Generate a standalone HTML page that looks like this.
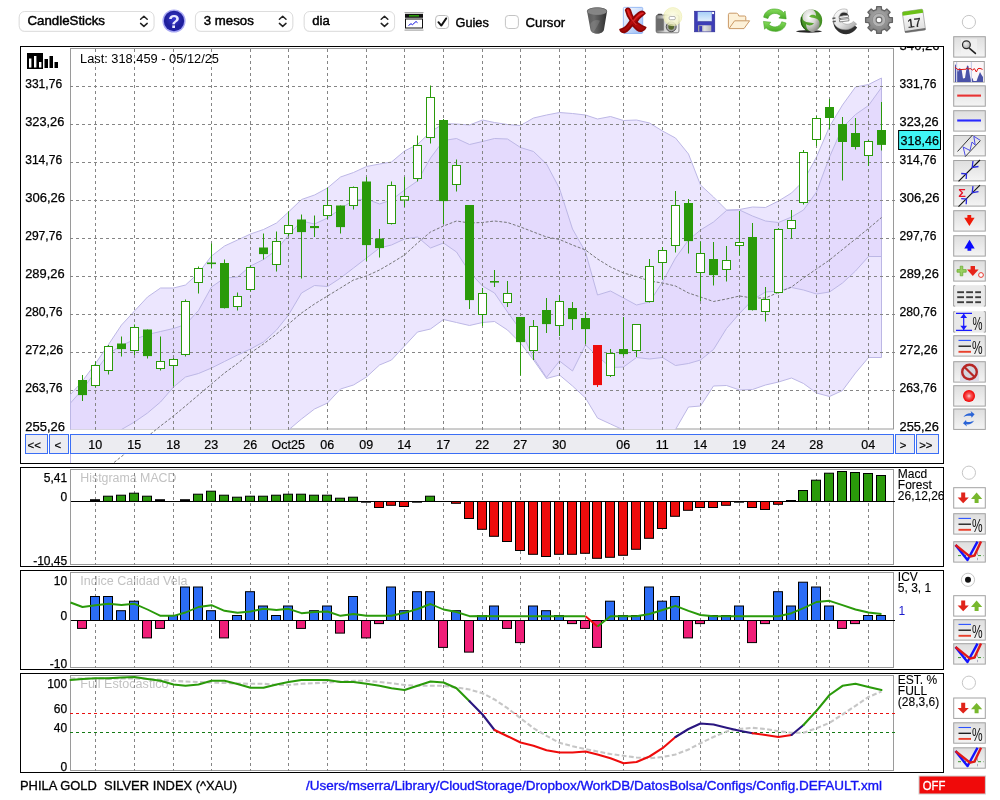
<!DOCTYPE html>
<html lang="ca"><head><meta charset="utf-8"><title>PHILA GOLD SILVER INDEX (^XAU)</title>
<style>html,body{margin:0;padding:0;background:#fff;}body{width:1000px;height:800px;overflow:hidden;position:relative;font-family:"Liberation Sans", sans-serif;}svg{position:absolute;left:0;top:0;display:block;}text{font-family:"Liberation Sans", sans-serif;}</style>
</head><body>
<svg width="1000" height="800" viewBox="0 0 1000 800">
<defs>
<linearGradient id="gBtn" x1="0" y1="0" x2="0" y2="1"><stop offset="0" stop-color="#dedede"/><stop offset="1" stop-color="#f4f4f4"/></linearGradient>
<radialGradient id="gHelp" cx="0.5" cy="0.4" r="0.6"><stop offset="0" stop-color="#3a3ad0"/><stop offset="0.7" stop-color="#1e1e9a"/><stop offset="1" stop-color="#2222a8"/></radialGradient>
<linearGradient id="gTrash" x1="0" y1="0" x2="1" y2="0"><stop offset="0" stop-color="#5a5a5a"/><stop offset="0.35" stop-color="#6a6a6a"/><stop offset="1" stop-color="#2e2e2e"/></linearGradient>
<linearGradient id="gCam" x1="0" y1="0" x2="1" y2="0"><stop offset="0" stop-color="#7a7a7a"/><stop offset="0.4" stop-color="#d8d8d8"/><stop offset="1" stop-color="#f0f0f0"/></linearGradient>
<radialGradient id="gFlash" cx="0.5" cy="0.5" r="0.5"><stop offset="0" stop-color="#fffff0" stop-opacity="1"/><stop offset="0.75" stop-color="#f4f4c8" stop-opacity="0.85"/><stop offset="1" stop-color="#f0f0b0" stop-opacity="0"/></radialGradient>
<linearGradient id="gLabel" x1="0" y1="0" x2="0" y2="1"><stop offset="0" stop-color="#a8d0f8"/><stop offset="1" stop-color="#e4f0fc"/></linearGradient>
<linearGradient id="gGreen" x1="0" y1="0" x2="0" y2="1"><stop offset="0" stop-color="#86dc5c"/><stop offset="1" stop-color="#48aa26"/></linearGradient>
<radialGradient id="gBall" cx="0.4" cy="0.35" r="0.7"><stop offset="0" stop-color="#ffffff"/><stop offset="0.5" stop-color="#d8d8d4"/><stop offset="1" stop-color="#8a8a86"/></radialGradient>
<linearGradient id="gSilver" x1="0" y1="0" x2="1" y2="1"><stop offset="0" stop-color="#ffffff"/><stop offset="0.55" stop-color="#e2e2e2"/><stop offset="1" stop-color="#9a9a9a"/></linearGradient>
<radialGradient id="gGear" cx="0.5" cy="0.4" r="0.6"><stop offset="0" stop-color="#b0b0b0"/><stop offset="1" stop-color="#7c7c7c"/></radialGradient>
<linearGradient id="gCal" x1="0" y1="0" x2="0" y2="1"><stop offset="0" stop-color="#ffffff"/><stop offset="1" stop-color="#dcdcdc"/></linearGradient>
<radialGradient id="gRed" cx="0.5" cy="0.5" r="0.5"><stop offset="0" stop-color="#ffd0d0"/><stop offset="0.35" stop-color="#f86060"/><stop offset="1" stop-color="#f00000"/></radialGradient>
<linearGradient id="gDoc" x1="0" y1="0" x2="1" y2="1"><stop offset="0" stop-color="#ffffff"/><stop offset="1" stop-color="#98bbf6"/></linearGradient>
<linearGradient id="gX" x1="0" y1="0" x2="0" y2="1"><stop offset="0" stop-color="#d81414"/><stop offset="1" stop-color="#a00606"/></linearGradient>
<linearGradient id="gShut" x1="0" y1="0" x2="1" y2="0"><stop offset="0" stop-color="#9a9a9a"/><stop offset="0.5" stop-color="#e0e0e0"/><stop offset="1" stop-color="#b4b4b4"/></linearGradient>
<radialGradient id="gBallG" cx="0.5" cy="0.4" r="0.6"><stop offset="0" stop-color="#6cba3a"/><stop offset="1" stop-color="#3a861e"/></radialGradient>
<radialGradient id="gMag" cx="0.4" cy="0.35" r="0.7"><stop offset="0" stop-color="#f0f0f0"/><stop offset="1" stop-color="#a8a8a8"/></radialGradient>
</defs>
<rect x="0" y="0" width="1000" height="800" fill="#fff"/>
<g id="main">
<rect x="20.5" y="46.5" width="923" height="417" fill="#fff" stroke="#000" stroke-width="1"/>
<clipPath id="cpMain"><rect x="21" y="47" width="922" height="416"/></clipPath>
<clipPath id="cpPlot"><rect x="70" y="48" width="824" height="381.3"/></clipPath>
<rect x="70.5" y="48.5" width="823" height="380.5" fill="none" stroke="#9a9a9a" stroke-width="1"/>
<g clip-path="url(#cpPlot)">
<polygon points="70.5,394.5 82.5,381.0 95.5,363.5 108.5,344.5 121.5,325.0 134.5,311.0 147.5,297.0 160.5,288.0 173.5,288.0 185.5,285.0 198.5,273.0 211.5,256.0 224.5,246.0 237.5,240.0 250.5,234.0 263.5,229.5 276.5,223.0 288.5,212.0 301.5,199.5 314.5,195.0 327.5,188.0 340.5,177.0 353.5,172.5 366.5,166.5 379.5,164.0 391.5,162.0 404.5,151.0 417.5,144.5 430.5,132.0 443.5,123.5 456.5,124.0 469.5,125.0 482.5,120.0 494.5,122.5 507.5,124.5 520.5,125.5 533.5,118.0 546.5,115.0 559.5,112.5 572.5,113.5 585.5,115.0 597.5,119.0 610.5,116.5 623.5,120.5 636.5,120.0 649.5,123.0 662.5,131.0 675.5,138.0 688.5,154.0 700.5,185.0 713.5,197.0 726.5,210.0 739.5,209.5 752.5,207.0 765.5,207.5 778.5,201.0 791.5,193.0 803.5,181.0 816.5,157.0 829.5,126.5 842.5,105.0 855.5,87.0 868.5,84.5 881.5,78.0 881.5,357.5 868.5,357.5 855.5,373.0 842.5,390.5 829.5,396.5 816.5,393.0 803.5,383.5 791.5,378.0 778.5,382.0 765.5,385.0 752.5,389.5 739.5,390.0 726.5,385.5 713.5,386.0 700.5,406.0 688.5,407.0 675.5,429.5 662.5,438.0 649.5,440.0 636.5,436.0 623.5,430.0 610.5,424.0 597.5,418.0 585.5,398.0 572.5,386.0 559.5,375.0 546.5,378.5 533.5,360.0 520.5,343.0 507.5,330.0 494.5,321.5 482.5,322.5 469.5,325.5 456.5,322.5 443.5,319.5 430.5,329.0 417.5,332.0 404.5,346.0 391.5,360.0 379.5,365.0 366.5,377.0 353.5,385.0 340.5,389.0 327.5,403.0 314.5,409.0 301.5,419.0 288.5,430.0 276.5,441.0 200.0,500.0 70.5,600.0" fill="#ece6fe"/>
<polygon points="70.5,403.0 82.5,389.5 95.5,371.5 108.5,353.5 121.5,345.5 134.5,339.5 147.5,334.5 160.5,331.5 173.5,328.5 185.5,324.5 198.5,310.5 211.5,287.0 224.5,278.0 237.5,277.0 250.5,266.0 263.5,259.5 276.5,250.0 288.5,235.0 301.5,221.0 314.5,224.0 327.5,218.0 340.5,209.0 353.5,200.0 366.5,199.0 379.5,204.0 391.5,200.0 404.5,190.0 417.5,181.0 430.5,158.0 443.5,140.5 456.5,138.5 469.5,144.5 482.5,141.5 494.5,138.5 507.5,139.0 520.5,147.5 533.5,151.5 546.5,164.0 559.5,188.5 572.5,229.0 585.5,252.0 597.5,295.0 610.5,291.0 623.5,298.0 636.5,305.0 649.5,302.0 662.5,282.0 675.5,258.0 688.5,240.0 700.5,230.0 713.5,222.0 726.5,210.5 739.5,210.0 752.5,216.0 765.5,221.0 778.5,222.5 791.5,217.0 803.5,210.0 816.5,192.0 829.5,157.0 842.5,127.5 855.5,114.5 868.5,105.5 881.5,87.5 881.5,256.5 868.5,256.5 855.5,271.0 842.5,283.0 829.5,292.0 816.5,294.0 803.5,290.0 791.5,287.5 778.5,291.0 765.5,292.0 752.5,300.0 739.5,313.5 726.5,328.5 713.5,349.5 700.5,360.0 688.5,363.5 675.5,365.5 662.5,357.5 649.5,359.0 636.5,357.5 623.5,367.0 610.5,367.5 597.5,356.0 585.5,345.0 572.5,371.0 559.5,361.0 546.5,377.5 533.5,358.0 520.5,330.0 507.5,312.0 494.5,293.0 482.5,286.0 469.5,272.0 456.5,252.0 443.5,243.0 430.5,248.0 417.5,237.0 404.5,239.0 391.5,245.0 379.5,248.0 366.5,258.0 353.5,268.0 340.5,278.0 327.5,286.5 314.5,285.5 301.5,293.0 288.5,315.0 276.5,330.0 263.5,342.0 250.5,349.0 237.5,355.0 224.5,361.5 211.5,368.0 198.5,373.5 185.5,377.0 173.5,387.0 160.5,402.0 147.5,413.0 134.5,422.0 121.5,429.5 108.5,438.0 95.5,446.0 82.5,452.0 70.5,454.0" fill="#e4dafd"/>
</g>
<line x1="70.5" y1="454" x2="70.5" y2="463" stroke="#bcb7e5" stroke-width="1"/>
<g clip-path="url(#cpPlot)" fill="none" stroke="#bcb7e5" stroke-width="1">
<polyline points="70.5,394.5 82.5,381.0 95.5,363.5 108.5,344.5 121.5,325.0 134.5,311.0 147.5,297.0 160.5,288.0 173.5,288.0 185.5,285.0 198.5,273.0 211.5,256.0 224.5,246.0 237.5,240.0 250.5,234.0 263.5,229.5 276.5,223.0 288.5,212.0 301.5,199.5 314.5,195.0 327.5,188.0 340.5,177.0 353.5,172.5 366.5,166.5 379.5,164.0 391.5,162.0 404.5,151.0 417.5,144.5 430.5,132.0 443.5,123.5 456.5,124.0 469.5,125.0 482.5,120.0 494.5,122.5 507.5,124.5 520.5,125.5 533.5,118.0 546.5,115.0 559.5,112.5 572.5,113.5 585.5,115.0 597.5,119.0 610.5,116.5 623.5,120.5 636.5,120.0 649.5,123.0 662.5,131.0 675.5,138.0 688.5,154.0 700.5,185.0 713.5,197.0 726.5,210.0 739.5,209.5 752.5,207.0 765.5,207.5 778.5,201.0 791.5,193.0 803.5,181.0 816.5,157.0 829.5,126.5 842.5,105.0 855.5,87.0 868.5,84.5 881.5,78.0 881.5,357.5 868.5,357.5 855.5,373.0 842.5,390.5 829.5,396.5 816.5,393.0 803.5,383.5 791.5,378.0 778.5,382.0 765.5,385.0 752.5,389.5 739.5,390.0 726.5,385.5 713.5,386.0 700.5,406.0 688.5,407.0 675.5,429.5 662.5,438.0 649.5,440.0 636.5,436.0 623.5,430.0 610.5,424.0 597.5,418.0 585.5,398.0 572.5,386.0 559.5,375.0 546.5,378.5 533.5,360.0 520.5,343.0 507.5,330.0 494.5,321.5 482.5,322.5 469.5,325.5 456.5,322.5 443.5,319.5 430.5,329.0 417.5,332.0 404.5,346.0 391.5,360.0 379.5,365.0 366.5,377.0 353.5,385.0 340.5,389.0 327.5,403.0 314.5,409.0 301.5,419.0 288.5,430.0 276.5,441.0 200.0,500.0 70.5,600.0 70.5,394.5"/>
<polyline points="70.5,403.0 82.5,389.5 95.5,371.5 108.5,353.5 121.5,345.5 134.5,339.5 147.5,334.5 160.5,331.5 173.5,328.5 185.5,324.5 198.5,310.5 211.5,287.0 224.5,278.0 237.5,277.0 250.5,266.0 263.5,259.5 276.5,250.0 288.5,235.0 301.5,221.0 314.5,224.0 327.5,218.0 340.5,209.0 353.5,200.0 366.5,199.0 379.5,204.0 391.5,200.0 404.5,190.0 417.5,181.0 430.5,158.0 443.5,140.5 456.5,138.5 469.5,144.5 482.5,141.5 494.5,138.5 507.5,139.0 520.5,147.5 533.5,151.5 546.5,164.0 559.5,188.5 572.5,229.0 585.5,252.0 597.5,295.0 610.5,291.0 623.5,298.0 636.5,305.0 649.5,302.0 662.5,282.0 675.5,258.0 688.5,240.0 700.5,230.0 713.5,222.0 726.5,210.5 739.5,210.0 752.5,216.0 765.5,221.0 778.5,222.5 791.5,217.0 803.5,210.0 816.5,192.0 829.5,157.0 842.5,127.5 855.5,114.5 868.5,105.5 881.5,87.5 881.5,256.5 868.5,256.5 855.5,271.0 842.5,283.0 829.5,292.0 816.5,294.0 803.5,290.0 791.5,287.5 778.5,291.0 765.5,292.0 752.5,300.0 739.5,313.5 726.5,328.5 713.5,349.5 700.5,360.0 688.5,363.5 675.5,365.5 662.5,357.5 649.5,359.0 636.5,357.5 623.5,367.0 610.5,367.5 597.5,356.0 585.5,345.0 572.5,371.0 559.5,361.0 546.5,377.5 533.5,358.0 520.5,330.0 507.5,312.0 494.5,293.0 482.5,286.0 469.5,272.0 456.5,252.0 443.5,243.0 430.5,248.0 417.5,237.0 404.5,239.0 391.5,245.0 379.5,248.0 366.5,258.0 353.5,268.0 340.5,278.0 327.5,286.5 314.5,285.5 301.5,293.0 288.5,315.0 276.5,330.0 263.5,342.0 250.5,349.0 237.5,355.0 224.5,361.5 211.5,368.0 198.5,373.5 185.5,377.0 173.5,387.0 160.5,402.0 147.5,413.0 134.5,422.0 121.5,429.5 108.5,438.0 95.5,446.0 82.5,452.0 70.5,454.0 70.5,403.0"/>
</g>
<g clip-path="url(#cpMain)"><polyline points="95.5,476.0 108.5,467.0 121.5,456.5 134.5,446.5 147.5,436.5 160.5,426.0 173.5,416.0 185.5,406.0 198.5,395.0 211.5,384.0 224.5,373.0 237.5,363.5 250.5,353.0 263.5,344.0 276.5,334.0 288.5,324.0 301.5,313.0 314.5,304.0 327.5,296.0 340.5,288.0 353.5,280.0 366.5,276.0 379.5,270.0 391.5,263.0 404.5,255.0 417.5,243.0 430.5,232.0 443.5,226.0 456.5,221.0 469.5,223.0 482.5,222.5 494.5,221.0 507.5,222.5 520.5,227.0 533.5,232.0 546.5,237.0 559.5,239.5 572.5,245.0 585.5,250.0 597.5,259.0 610.5,267.0 623.5,273.0 636.5,276.5 649.5,281.0 662.5,283.0 675.5,286.0 688.5,293.0 700.5,297.0 713.5,301.5 726.5,299.0 739.5,296.0 752.5,298.0 765.5,298.0 778.5,292.4 791.5,287.0 803.5,278.0 816.5,269.0 829.5,260.0 842.5,249.5 855.5,239.0 868.5,228.5 881.5,217.5" fill="none" stroke="#767679" stroke-width="1" stroke-dasharray="2.9 1.7"/></g>
<g stroke="#858585" stroke-width="1" stroke-dasharray="3 3" fill="none">
<line x1="95.5" y1="49" x2="95.5" y2="430"/>
<line x1="134.5" y1="49" x2="134.5" y2="430"/>
<line x1="173.5" y1="49" x2="173.5" y2="430"/>
<line x1="211.5" y1="49" x2="211.5" y2="430"/>
<line x1="250.5" y1="49" x2="250.5" y2="430"/>
<line x1="288.5" y1="49" x2="288.5" y2="430"/>
<line x1="327.5" y1="49" x2="327.5" y2="430"/>
<line x1="366.5" y1="49" x2="366.5" y2="430"/>
<line x1="404.5" y1="49" x2="404.5" y2="430"/>
<line x1="443.5" y1="49" x2="443.5" y2="430"/>
<line x1="482.5" y1="49" x2="482.5" y2="430"/>
<line x1="520.5" y1="49" x2="520.5" y2="430"/>
<line x1="559.5" y1="49" x2="559.5" y2="430"/>
<line x1="585.5" y1="49" x2="585.5" y2="430"/>
<line x1="623.5" y1="49" x2="623.5" y2="430"/>
<line x1="662.5" y1="49" x2="662.5" y2="430"/>
<line x1="700.5" y1="49" x2="700.5" y2="430"/>
<line x1="739.5" y1="49" x2="739.5" y2="430"/>
<line x1="778.5" y1="49" x2="778.5" y2="430"/>
<line x1="816.5" y1="49" x2="816.5" y2="430"/>
<line x1="829.5" y1="49" x2="829.5" y2="430"/>
<line x1="868.5" y1="49" x2="868.5" y2="430"/>
<line x1="70" y1="86.5" x2="895" y2="86.5"/>
<line x1="70" y1="124.5" x2="895" y2="124.5"/>
<line x1="70" y1="162.5" x2="895" y2="162.5"/>
<line x1="70" y1="200.5" x2="895" y2="200.5"/>
<line x1="70" y1="238.5" x2="895" y2="238.5"/>
<line x1="70" y1="276.5" x2="895" y2="276.5"/>
<line x1="70" y1="314.5" x2="895" y2="314.5"/>
<line x1="70" y1="352.5" x2="895" y2="352.5"/>
<line x1="70" y1="390.5" x2="895" y2="390.5"/>
</g>
<g>
<line x1="82.5" y1="375.0" x2="82.5" y2="401.0" stroke="#2a9a0a" stroke-width="1"/>
<rect x="78.0" y="380.0" width="9" height="15.1" fill="#2a9a0a"/>
<line x1="95.5" y1="361.5" x2="95.5" y2="387.5" stroke="#2a9a0a" stroke-width="1"/>
<rect x="91.5" y="365.5" width="8" height="20.0" fill="#fff" stroke="#2a9a0a" stroke-width="1"/>
<line x1="108.5" y1="345.0" x2="108.5" y2="374.5" stroke="#2a9a0a" stroke-width="1"/>
<rect x="104.5" y="346.5" width="8" height="24.0" fill="#fff" stroke="#2a9a0a" stroke-width="1"/>
<line x1="121.5" y1="336.5" x2="121.5" y2="356.5" stroke="#2a9a0a" stroke-width="1"/>
<rect x="117.0" y="343.5" width="9" height="5.6" fill="#2a9a0a"/>
<line x1="134.5" y1="324.5" x2="134.5" y2="355.0" stroke="#2a9a0a" stroke-width="1"/>
<rect x="130.5" y="327.5" width="8" height="23.0" fill="#fff" stroke="#2a9a0a" stroke-width="1"/>
<line x1="147.5" y1="329.5" x2="147.5" y2="358.5" stroke="#2a9a0a" stroke-width="1"/>
<rect x="143.0" y="329.5" width="9" height="26.6" fill="#2a9a0a"/>
<line x1="160.5" y1="336.5" x2="160.5" y2="370.5" stroke="#2a9a0a" stroke-width="1"/>
<rect x="156.5" y="361.5" width="8" height="7.0" fill="#fff" stroke="#2a9a0a" stroke-width="1"/>
<line x1="173.5" y1="358.0" x2="173.5" y2="386.0" stroke="#2a9a0a" stroke-width="1"/>
<rect x="169.5" y="359.5" width="8" height="6.0" fill="#fff" stroke="#2a9a0a" stroke-width="1"/>
<line x1="185.5" y1="299.5" x2="185.5" y2="356.5" stroke="#2a9a0a" stroke-width="1"/>
<rect x="181.5" y="301.5" width="8" height="53.0" fill="#fff" stroke="#2a9a0a" stroke-width="1"/>
<line x1="198.5" y1="266.5" x2="198.5" y2="293.5" stroke="#2a9a0a" stroke-width="1"/>
<rect x="194.5" y="268.5" width="8" height="14.0" fill="#fff" stroke="#2a9a0a" stroke-width="1"/>
<line x1="211.5" y1="243.5" x2="211.5" y2="268.5" stroke="#2a9a0a" stroke-width="1"/>
<rect x="207.0" y="262.5" width="9" height="1.6" fill="#2a9a0a"/>
<line x1="224.5" y1="259.5" x2="224.5" y2="308.5" stroke="#2a9a0a" stroke-width="1"/>
<rect x="220.0" y="263.0" width="9" height="45.1" fill="#2a9a0a"/>
<line x1="237.5" y1="292.5" x2="237.5" y2="310.5" stroke="#2a9a0a" stroke-width="1"/>
<rect x="233.5" y="296.5" width="8" height="10.0" fill="#fff" stroke="#2a9a0a" stroke-width="1"/>
<line x1="250.5" y1="265.5" x2="250.5" y2="291.5" stroke="#2a9a0a" stroke-width="1"/>
<rect x="246.5" y="267.5" width="8" height="22.0" fill="#fff" stroke="#2a9a0a" stroke-width="1"/>
<line x1="263.5" y1="233.5" x2="263.5" y2="259.5" stroke="#2a9a0a" stroke-width="1"/>
<rect x="259.0" y="247.5" width="9" height="6.6" fill="#2a9a0a"/>
<line x1="276.5" y1="231.5" x2="276.5" y2="271.5" stroke="#2a9a0a" stroke-width="1"/>
<rect x="272.5" y="241.5" width="8" height="23.0" fill="#fff" stroke="#2a9a0a" stroke-width="1"/>
<line x1="288.5" y1="211.5" x2="288.5" y2="236.0" stroke="#2a9a0a" stroke-width="1"/>
<rect x="284.5" y="225.5" width="8" height="8.0" fill="#fff" stroke="#2a9a0a" stroke-width="1"/>
<line x1="301.5" y1="214.5" x2="301.5" y2="278.5" stroke="#2a9a0a" stroke-width="1"/>
<rect x="297.0" y="219.5" width="9" height="12.6" fill="#2a9a0a"/>
<line x1="314.5" y1="215.5" x2="314.5" y2="237.0" stroke="#2a9a0a" stroke-width="1"/>
<rect x="310.0" y="226.0" width="9" height="2.1" fill="#2a9a0a"/>
<line x1="327.5" y1="188.0" x2="327.5" y2="219.0" stroke="#2a9a0a" stroke-width="1"/>
<rect x="323.5" y="205.5" width="8" height="10.0" fill="#fff" stroke="#2a9a0a" stroke-width="1"/>
<line x1="340.5" y1="205.5" x2="340.5" y2="233.5" stroke="#2a9a0a" stroke-width="1"/>
<rect x="336.0" y="205.5" width="9" height="21.6" fill="#2a9a0a"/>
<line x1="353.5" y1="186.5" x2="353.5" y2="209.5" stroke="#2a9a0a" stroke-width="1"/>
<rect x="349.5" y="187.5" width="8" height="18.0" fill="#fff" stroke="#2a9a0a" stroke-width="1"/>
<line x1="366.5" y1="177.0" x2="366.5" y2="261.0" stroke="#2a9a0a" stroke-width="1"/>
<rect x="362.0" y="181.5" width="9" height="63.6" fill="#2a9a0a"/>
<line x1="379.5" y1="229.0" x2="379.5" y2="257.5" stroke="#2a9a0a" stroke-width="1"/>
<rect x="375.0" y="238.5" width="9" height="9.6" fill="#2a9a0a"/>
<line x1="391.5" y1="181.5" x2="391.5" y2="224.5" stroke="#2a9a0a" stroke-width="1"/>
<rect x="387.5" y="185.5" width="8" height="38.0" fill="#fff" stroke="#2a9a0a" stroke-width="1"/>
<line x1="404.5" y1="177.0" x2="404.5" y2="207.0" stroke="#2a9a0a" stroke-width="1"/>
<rect x="400.5" y="196.5" width="8" height="3.5" fill="#fff" stroke="#2a9a0a" stroke-width="1"/>
<line x1="417.5" y1="135.5" x2="417.5" y2="181.5" stroke="#2a9a0a" stroke-width="1"/>
<rect x="413.5" y="145.5" width="8" height="33.0" fill="#fff" stroke="#2a9a0a" stroke-width="1"/>
<line x1="430.5" y1="85.5" x2="430.5" y2="143.5" stroke="#2a9a0a" stroke-width="1"/>
<rect x="426.5" y="97.5" width="8" height="40.0" fill="#fff" stroke="#2a9a0a" stroke-width="1"/>
<line x1="443.5" y1="119.0" x2="443.5" y2="224.0" stroke="#2a9a0a" stroke-width="1"/>
<rect x="439.0" y="120.0" width="9" height="81.1" fill="#2a9a0a"/>
<line x1="456.5" y1="159.5" x2="456.5" y2="191.5" stroke="#2a9a0a" stroke-width="1"/>
<rect x="452.5" y="165.5" width="8" height="19.0" fill="#fff" stroke="#2a9a0a" stroke-width="1"/>
<line x1="469.5" y1="205.0" x2="469.5" y2="309.0" stroke="#2a9a0a" stroke-width="1"/>
<rect x="465.0" y="205.0" width="9" height="95.1" fill="#2a9a0a"/>
<line x1="482.5" y1="288.0" x2="482.5" y2="326.0" stroke="#2a9a0a" stroke-width="1"/>
<rect x="478.5" y="293.5" width="8" height="21.0" fill="#fff" stroke="#2a9a0a" stroke-width="1"/>
<line x1="494.5" y1="270.0" x2="494.5" y2="287.0" stroke="#2a9a0a" stroke-width="1"/>
<rect x="490.0" y="281.0" width="9" height="1.6" fill="#2a9a0a"/>
<line x1="507.5" y1="281.0" x2="507.5" y2="307.0" stroke="#2a9a0a" stroke-width="1"/>
<rect x="503.5" y="293.5" width="8" height="9.0" fill="#fff" stroke="#2a9a0a" stroke-width="1"/>
<line x1="520.5" y1="317.0" x2="520.5" y2="375.5" stroke="#2a9a0a" stroke-width="1"/>
<rect x="516.0" y="317.0" width="9" height="25.1" fill="#2a9a0a"/>
<line x1="533.5" y1="320.0" x2="533.5" y2="360.0" stroke="#2a9a0a" stroke-width="1"/>
<rect x="529.5" y="326.5" width="8" height="24.0" fill="#fff" stroke="#2a9a0a" stroke-width="1"/>
<line x1="546.5" y1="298.0" x2="546.5" y2="333.0" stroke="#2a9a0a" stroke-width="1"/>
<rect x="542.0" y="310.0" width="9" height="14.1" fill="#2a9a0a"/>
<line x1="559.5" y1="295.0" x2="559.5" y2="336.0" stroke="#2a9a0a" stroke-width="1"/>
<rect x="555.5" y="301.5" width="8" height="24.0" fill="#fff" stroke="#2a9a0a" stroke-width="1"/>
<line x1="572.5" y1="302.0" x2="572.5" y2="330.0" stroke="#2a9a0a" stroke-width="1"/>
<rect x="568.0" y="308.0" width="9" height="11.1" fill="#2a9a0a"/>
<line x1="585.5" y1="312.0" x2="585.5" y2="344.0" stroke="#2a9a0a" stroke-width="1"/>
<rect x="581.0" y="318.0" width="9" height="11.1" fill="#2a9a0a"/>
<line x1="597.5" y1="345.0" x2="597.5" y2="387.0" stroke="#ee0c0c" stroke-width="1"/>
<rect x="593.0" y="345.0" width="9" height="40.1" fill="#ee0c0c"/>
<line x1="610.5" y1="349.0" x2="610.5" y2="377.0" stroke="#2a9a0a" stroke-width="1"/>
<rect x="606.5" y="353.5" width="8" height="22.0" fill="#fff" stroke="#2a9a0a" stroke-width="1"/>
<line x1="623.5" y1="317.0" x2="623.5" y2="356.0" stroke="#2a9a0a" stroke-width="1"/>
<rect x="619.0" y="349.0" width="9" height="5.1" fill="#2a9a0a"/>
<line x1="636.5" y1="324.0" x2="636.5" y2="357.0" stroke="#2a9a0a" stroke-width="1"/>
<rect x="632.5" y="324.5" width="8" height="26.0" fill="#fff" stroke="#2a9a0a" stroke-width="1"/>
<line x1="649.5" y1="259.0" x2="649.5" y2="302.5" stroke="#2a9a0a" stroke-width="1"/>
<rect x="645.5" y="266.5" width="8" height="35.0" fill="#fff" stroke="#2a9a0a" stroke-width="1"/>
<line x1="662.5" y1="247.0" x2="662.5" y2="279.5" stroke="#2a9a0a" stroke-width="1"/>
<rect x="658.5" y="250.5" width="8" height="12.0" fill="#fff" stroke="#2a9a0a" stroke-width="1"/>
<line x1="675.5" y1="191.0" x2="675.5" y2="252.5" stroke="#2a9a0a" stroke-width="1"/>
<rect x="671.5" y="205.5" width="8" height="40.0" fill="#fff" stroke="#2a9a0a" stroke-width="1"/>
<line x1="688.5" y1="199.0" x2="688.5" y2="253.5" stroke="#2a9a0a" stroke-width="1"/>
<rect x="684.0" y="203.0" width="9" height="38.1" fill="#2a9a0a"/>
<line x1="700.5" y1="241.5" x2="700.5" y2="301.0" stroke="#2a9a0a" stroke-width="1"/>
<rect x="696.5" y="253.5" width="8" height="19.0" fill="#fff" stroke="#2a9a0a" stroke-width="1"/>
<line x1="713.5" y1="242.0" x2="713.5" y2="285.5" stroke="#2a9a0a" stroke-width="1"/>
<rect x="709.0" y="259.0" width="9" height="16.1" fill="#2a9a0a"/>
<line x1="726.5" y1="246.0" x2="726.5" y2="281.5" stroke="#2a9a0a" stroke-width="1"/>
<rect x="722.5" y="260.5" width="8" height="9.0" fill="#fff" stroke="#2a9a0a" stroke-width="1"/>
<line x1="739.5" y1="211.0" x2="739.5" y2="255.5" stroke="#2a9a0a" stroke-width="1"/>
<rect x="735.5" y="242.5" width="8" height="3.0" fill="#fff" stroke="#2a9a0a" stroke-width="1"/>
<line x1="752.5" y1="223.0" x2="752.5" y2="310.5" stroke="#2a9a0a" stroke-width="1"/>
<rect x="748.0" y="237.0" width="9" height="73.1" fill="#2a9a0a"/>
<line x1="765.5" y1="287.0" x2="765.5" y2="321.5" stroke="#2a9a0a" stroke-width="1"/>
<rect x="761.5" y="299.5" width="8" height="12.0" fill="#fff" stroke="#2a9a0a" stroke-width="1"/>
<line x1="778.5" y1="228.0" x2="778.5" y2="293.5" stroke="#2a9a0a" stroke-width="1"/>
<rect x="774.5" y="229.5" width="8" height="63.0" fill="#fff" stroke="#2a9a0a" stroke-width="1"/>
<line x1="791.5" y1="210.0" x2="791.5" y2="238.5" stroke="#2a9a0a" stroke-width="1"/>
<rect x="787.5" y="220.5" width="8" height="8.0" fill="#fff" stroke="#2a9a0a" stroke-width="1"/>
<line x1="803.5" y1="150.0" x2="803.5" y2="204.5" stroke="#2a9a0a" stroke-width="1"/>
<rect x="799.5" y="152.5" width="8" height="50.0" fill="#fff" stroke="#2a9a0a" stroke-width="1"/>
<line x1="816.5" y1="116.0" x2="816.5" y2="146.0" stroke="#2a9a0a" stroke-width="1"/>
<rect x="812.5" y="118.5" width="8" height="21.0" fill="#fff" stroke="#2a9a0a" stroke-width="1"/>
<line x1="829.5" y1="99.0" x2="829.5" y2="129.0" stroke="#2a9a0a" stroke-width="1"/>
<rect x="825.0" y="107.0" width="9" height="11.0" fill="#2a9a0a"/>
<line x1="842.5" y1="117.0" x2="842.5" y2="180.5" stroke="#2a9a0a" stroke-width="1"/>
<rect x="838.0" y="124.0" width="9" height="18.0" fill="#2a9a0a"/>
<line x1="855.5" y1="118.0" x2="855.5" y2="149.5" stroke="#2a9a0a" stroke-width="1"/>
<rect x="851.0" y="133.0" width="9" height="14.0" fill="#2a9a0a"/>
<line x1="868.5" y1="140.0" x2="868.5" y2="166.0" stroke="#2a9a0a" stroke-width="1"/>
<rect x="864.5" y="141.5" width="8" height="14.0" fill="#fff" stroke="#2a9a0a" stroke-width="1"/>
<line x1="881.5" y1="102.0" x2="881.5" y2="150.5" stroke="#2a9a0a" stroke-width="1"/>
<rect x="877.0" y="130.0" width="9" height="14.9" fill="#2a9a0a"/>
</g>
<g font-size="12" fill="#000" stroke="#000" stroke-width="0.25">
<text x="25.2" y="87.7" textLength="36.9" lengthAdjust="spacingAndGlyphs">331,76</text>
<text x="899.6" y="87.7" textLength="36.8" lengthAdjust="spacingAndGlyphs">331,76</text>
<text x="25.2" y="125.7" textLength="39.1" lengthAdjust="spacingAndGlyphs">323,26</text>
<text x="899.6" y="125.7" textLength="39.0" lengthAdjust="spacingAndGlyphs">323,26</text>
<text x="25.2" y="163.7" textLength="36.9" lengthAdjust="spacingAndGlyphs">314,76</text>
<text x="899.6" y="163.7" textLength="36.8" lengthAdjust="spacingAndGlyphs">314,76</text>
<text x="25.2" y="201.7" textLength="39.9" lengthAdjust="spacingAndGlyphs">306,26</text>
<text x="899.6" y="201.7" textLength="39.8" lengthAdjust="spacingAndGlyphs">306,26</text>
<text x="25.2" y="239.7" textLength="36.9" lengthAdjust="spacingAndGlyphs">297,76</text>
<text x="899.6" y="239.7" textLength="36.8" lengthAdjust="spacingAndGlyphs">297,76</text>
<text x="25.2" y="277.7" textLength="39.4" lengthAdjust="spacingAndGlyphs">289,26</text>
<text x="899.6" y="277.7" textLength="39.2" lengthAdjust="spacingAndGlyphs">289,26</text>
<text x="25.2" y="315.7" textLength="37.4" lengthAdjust="spacingAndGlyphs">280,76</text>
<text x="899.6" y="315.7" textLength="37.2" lengthAdjust="spacingAndGlyphs">280,76</text>
<text x="25.2" y="353.7" textLength="38.1" lengthAdjust="spacingAndGlyphs">272,26</text>
<text x="899.6" y="353.7" textLength="38.0" lengthAdjust="spacingAndGlyphs">272,26</text>
<text x="25.2" y="391.7" textLength="37.4" lengthAdjust="spacingAndGlyphs">263,76</text>
<text x="899.6" y="391.7" textLength="37.2" lengthAdjust="spacingAndGlyphs">263,76</text>
<text x="25.2" y="430.6" textLength="39.8" lengthAdjust="spacingAndGlyphs">255,26</text>
<text x="899.6" y="430.6" textLength="39.2" lengthAdjust="spacingAndGlyphs">255,26</text>
<g clip-path="url(#cpMain)"><text x="899.6" y="49.7" textLength="40" lengthAdjust="spacingAndGlyphs">340,26</text></g>
</g>
<rect x="898.6" y="130.5" width="41.9" height="19" fill="#3ff5f5" stroke="#000" stroke-width="1"/>
<text x="900.5" y="144.6" font-size="12" textLength="38.4" lengthAdjust="spacingAndGlyphs" stroke="#000" stroke-width="0.25">318,46</text>
<text x="80" y="62.5" font-size="12" textLength="139" lengthAdjust="spacingAndGlyphs">Last: 318.459 - 05/12/25</text>
<g fill="#000"><rect x="27" y="53" width="16" height="16"/><rect x="29" y="58.5" width="2.4" height="9" fill="#fff"/><rect x="34" y="56" width="2.4" height="11.5" fill="#fff"/><rect x="39" y="62" width="2.4" height="5.5" fill="#fff"/><rect x="44.5" y="59" width="3.5" height="9"/><rect x="49.5" y="56" width="3.5" height="12"/><rect x="54.5" y="62" width="3.5" height="6"/></g>
<g>
<rect x="25.5" y="434.5" width="22" height="19" fill="#ececf1" stroke="#3a6ef5"/>
<rect x="49.5" y="434.5" width="19" height="19" fill="#ececf1" stroke="#3a6ef5"/>
<rect x="70.5" y="434.5" width="823" height="19" fill="#ececf1" stroke="#3a6ef5"/>
<rect x="895.5" y="434.5" width="19" height="19" fill="#ececf1" stroke="#3a6ef5"/>
<rect x="916.5" y="434.5" width="22" height="19" fill="#ececf1" stroke="#3a6ef5"/>
<g font-size="12.5" fill="#000" text-anchor="middle" stroke="#000" stroke-width="0.2">
<g font-size="11.4"><text x="34.2" y="448.6">&lt;&lt;</text><text x="57.8" y="448.6">&lt;</text><text x="903" y="448.6">&gt;</text><text x="925.8" y="448.6">&gt;&gt;</text></g>
<text x="95.3" y="449">10</text>
<text x="134.3" y="449">15</text>
<text x="173.3" y="449">18</text>
<text x="211.3" y="449">23</text>
<text x="250.3" y="449">26</text>
<text x="288.3" y="449">Oct25</text>
<text x="327.3" y="449">06</text>
<text x="366.3" y="449">09</text>
<text x="404.3" y="449">14</text>
<text x="443.3" y="449">17</text>
<text x="482.3" y="449">22</text>
<text x="520.3" y="449">27</text>
<text x="559.3" y="449">30</text>
<text x="623.3" y="449">06</text>
<text x="662.3" y="449">11</text>
<text x="700.3" y="449">14</text>
<text x="739.3" y="449">19</text>
<text x="778.3" y="449">24</text>
<text x="816.3" y="449">28</text>
<text x="868.3" y="449">04</text>
</g></g>
</g>
<rect x="20.5" y="467.5" width="923" height="99" fill="#fff" stroke="#000" stroke-width="1"/>
<rect x="70.5" y="469.5" width="823" height="95" fill="#fff" stroke="#9a9a9a" stroke-width="1"/>
<text x="80.3" y="481.6" font-size="12" fill="#c2c2c2" textLength="96.2" lengthAdjust="spacingAndGlyphs">Histgrama MACD</text>
<g stroke="#858585" stroke-width="1" stroke-dasharray="3 3" fill="none">
<line x1="95.5" y1="473.0" x2="95.5" y2="565.0"/>
<line x1="134.5" y1="473.0" x2="134.5" y2="565.0"/>
<line x1="173.5" y1="473.0" x2="173.5" y2="565.0"/>
<line x1="211.5" y1="473.0" x2="211.5" y2="565.0"/>
<line x1="250.5" y1="473.0" x2="250.5" y2="565.0"/>
<line x1="288.5" y1="473.0" x2="288.5" y2="565.0"/>
<line x1="327.5" y1="473.0" x2="327.5" y2="565.0"/>
<line x1="366.5" y1="473.0" x2="366.5" y2="565.0"/>
<line x1="404.5" y1="473.0" x2="404.5" y2="565.0"/>
<line x1="443.5" y1="473.0" x2="443.5" y2="565.0"/>
<line x1="482.5" y1="473.0" x2="482.5" y2="565.0"/>
<line x1="520.5" y1="473.0" x2="520.5" y2="565.0"/>
<line x1="559.5" y1="473.0" x2="559.5" y2="565.0"/>
<line x1="585.5" y1="473.0" x2="585.5" y2="565.0"/>
<line x1="623.5" y1="473.0" x2="623.5" y2="565.0"/>
<line x1="662.5" y1="473.0" x2="662.5" y2="565.0"/>
<line x1="700.5" y1="473.0" x2="700.5" y2="565.0"/>
<line x1="739.5" y1="473.0" x2="739.5" y2="565.0"/>
<line x1="778.5" y1="473.0" x2="778.5" y2="565.0"/>
<line x1="816.5" y1="473.0" x2="816.5" y2="565.0"/>
<line x1="829.5" y1="473.0" x2="829.5" y2="565.0"/>
<line x1="868.5" y1="473.0" x2="868.5" y2="565.0"/>
</g>
<g font-size="12" fill="#000" text-anchor="end" stroke="#000" stroke-width="0.25">
<text x="67.2" y="481.7">5,41</text>
<text x="67.2" y="501.0">0</text>
<text x="67.2" y="565.0">-10,45</text>
</g>
<g font-size="12" fill="#000" stroke="#000" stroke-width="0.1">
<text x="897.8" y="478.0">Macd</text>
<text x="897.8" y="489.0">Forest</text>
<text x="897.8" y="500.0">26,12,26</text>
</g>
<g stroke="#000" stroke-width="1">
<rect x="90.0" y="499.2" width="10" height="2.8" fill="#000" stroke="none"/>
<rect x="103.5" y="496.2" width="9" height="5.2" fill="#2a9a0a"/>
<rect x="116.5" y="495.2" width="9" height="6.2" fill="#2a9a0a"/>
<rect x="129.5" y="493.2" width="9" height="8.2" fill="#2a9a0a"/>
<rect x="142.5" y="496.2" width="9" height="5.2" fill="#2a9a0a"/>
<rect x="155.0" y="499.2" width="10" height="2.8" fill="#000" stroke="none"/>
<rect x="180.0" y="499.2" width="10" height="2.8" fill="#000" stroke="none"/>
<rect x="193.5" y="494.2" width="9" height="7.2" fill="#2a9a0a"/>
<rect x="206.5" y="491.2" width="9" height="10.2" fill="#2a9a0a"/>
<rect x="219.5" y="495.2" width="9" height="6.2" fill="#2a9a0a"/>
<rect x="232.5" y="497.2" width="9" height="4.2" fill="#2a9a0a"/>
<rect x="245.5" y="496.2" width="9" height="5.2" fill="#2a9a0a"/>
<rect x="258.5" y="496.2" width="9" height="5.2" fill="#2a9a0a"/>
<rect x="271.5" y="495.2" width="9" height="6.2" fill="#2a9a0a"/>
<rect x="283.5" y="494.2" width="9" height="7.2" fill="#2a9a0a"/>
<rect x="296.5" y="494.2" width="9" height="7.2" fill="#2a9a0a"/>
<rect x="309.5" y="495.2" width="9" height="6.2" fill="#2a9a0a"/>
<rect x="322.5" y="495.2" width="9" height="6.2" fill="#2a9a0a"/>
<rect x="335.5" y="498.2" width="9" height="3.2" fill="#2a9a0a"/>
<rect x="348.5" y="497.2" width="9" height="4.2" fill="#2a9a0a"/>
<rect x="361.0" y="501" width="10" height="1.7" fill="#000" stroke="none"/>
<rect x="374.5" y="501.5" width="9" height="6.0" fill="#ee0c0c"/>
<rect x="386.5" y="501.5" width="9" height="3.8" fill="#ee0c0c"/>
<rect x="399.5" y="501.5" width="9" height="5.0" fill="#ee0c0c"/>
<rect x="412.0" y="501" width="10" height="1.7" fill="#000" stroke="none"/>
<rect x="425.5" y="496.2" width="9" height="5.2" fill="#2a9a0a"/>
<rect x="451.5" y="501.5" width="9" height="1.8" fill="#ee0c0c"/>
<rect x="464.5" y="501.5" width="9" height="17.0" fill="#ee0c0c"/>
<rect x="477.5" y="501.5" width="9" height="27.8" fill="#ee0c0c"/>
<rect x="489.5" y="501.5" width="9" height="34.8" fill="#ee0c0c"/>
<rect x="502.5" y="501.5" width="9" height="40.0" fill="#ee0c0c"/>
<rect x="515.5" y="501.5" width="9" height="49.0" fill="#ee0c0c"/>
<rect x="528.5" y="501.5" width="9" height="52.8" fill="#ee0c0c"/>
<rect x="541.5" y="501.5" width="9" height="55.0" fill="#ee0c0c"/>
<rect x="554.5" y="501.5" width="9" height="52.8" fill="#ee0c0c"/>
<rect x="567.5" y="501.5" width="9" height="52.8" fill="#ee0c0c"/>
<rect x="580.5" y="501.5" width="9" height="51.8" fill="#ee0c0c"/>
<rect x="592.5" y="501.5" width="9" height="56.8" fill="#ee0c0c"/>
<rect x="605.5" y="501.5" width="9" height="55.8" fill="#ee0c0c"/>
<rect x="618.5" y="501.5" width="9" height="53.8" fill="#ee0c0c"/>
<rect x="631.5" y="501.5" width="9" height="47.8" fill="#ee0c0c"/>
<rect x="644.5" y="501.5" width="9" height="36.8" fill="#ee0c0c"/>
<rect x="657.5" y="501.5" width="9" height="27.0" fill="#ee0c0c"/>
<rect x="670.5" y="501.5" width="9" height="14.8" fill="#ee0c0c"/>
<rect x="683.5" y="501.5" width="9" height="8.8" fill="#ee0c0c"/>
<rect x="695.5" y="501.5" width="9" height="6.0" fill="#ee0c0c"/>
<rect x="708.5" y="501.5" width="9" height="6.0" fill="#ee0c0c"/>
<rect x="721.5" y="501.5" width="9" height="3.8" fill="#ee0c0c"/>
<rect x="734.0" y="501" width="10" height="1.7" fill="#000" stroke="none"/>
<rect x="747.5" y="501.5" width="9" height="6.0" fill="#ee0c0c"/>
<rect x="760.5" y="501.5" width="9" height="8.0" fill="#ee0c0c"/>
<rect x="773.5" y="501.5" width="9" height="2.8" fill="#ee0c0c"/>
<rect x="786.0" y="500.0" width="10" height="2.0" fill="#000" stroke="none"/>
<rect x="798.5" y="490.5" width="9" height="11.0" fill="#2a9a0a"/>
<rect x="811.5" y="480.2" width="9" height="21.2" fill="#2a9a0a"/>
<rect x="824.5" y="473.2" width="9" height="28.2" fill="#2a9a0a"/>
<rect x="837.5" y="471.5" width="9" height="30.0" fill="#2a9a0a"/>
<rect x="850.5" y="472.5" width="9" height="29.0" fill="#2a9a0a"/>
<rect x="863.5" y="473.5" width="9" height="28.0" fill="#2a9a0a"/>
<rect x="876.5" y="475.5" width="9" height="26.0" fill="#2a9a0a"/>
<line x1="71" y1="501.5" x2="895" y2="501.5"/>
</g>
<rect x="20.5" y="570.5" width="923" height="99" fill="#fff" stroke="#000" stroke-width="1"/>
<rect x="70.5" y="572.5" width="823" height="95" fill="#fff" stroke="#9a9a9a" stroke-width="1"/>
<text x="80.3" y="584.6" font-size="12" fill="#c2c2c2" textLength="107.2" lengthAdjust="spacingAndGlyphs">Indice Calidad Vela</text>
<g stroke="#858585" stroke-width="1" stroke-dasharray="3 3" fill="none">
<line x1="95.5" y1="576.0" x2="95.5" y2="668.0"/>
<line x1="134.5" y1="576.0" x2="134.5" y2="668.0"/>
<line x1="173.5" y1="576.0" x2="173.5" y2="668.0"/>
<line x1="211.5" y1="576.0" x2="211.5" y2="668.0"/>
<line x1="250.5" y1="576.0" x2="250.5" y2="668.0"/>
<line x1="288.5" y1="576.0" x2="288.5" y2="668.0"/>
<line x1="327.5" y1="576.0" x2="327.5" y2="668.0"/>
<line x1="366.5" y1="576.0" x2="366.5" y2="668.0"/>
<line x1="404.5" y1="576.0" x2="404.5" y2="668.0"/>
<line x1="443.5" y1="576.0" x2="443.5" y2="668.0"/>
<line x1="482.5" y1="576.0" x2="482.5" y2="668.0"/>
<line x1="520.5" y1="576.0" x2="520.5" y2="668.0"/>
<line x1="559.5" y1="576.0" x2="559.5" y2="668.0"/>
<line x1="585.5" y1="576.0" x2="585.5" y2="668.0"/>
<line x1="623.5" y1="576.0" x2="623.5" y2="668.0"/>
<line x1="662.5" y1="576.0" x2="662.5" y2="668.0"/>
<line x1="700.5" y1="576.0" x2="700.5" y2="668.0"/>
<line x1="739.5" y1="576.0" x2="739.5" y2="668.0"/>
<line x1="778.5" y1="576.0" x2="778.5" y2="668.0"/>
<line x1="816.5" y1="576.0" x2="816.5" y2="668.0"/>
<line x1="829.5" y1="576.0" x2="829.5" y2="668.0"/>
<line x1="868.5" y1="576.0" x2="868.5" y2="668.0"/>
</g>
<g font-size="12" fill="#000" text-anchor="end" stroke="#000" stroke-width="0.25">
<text x="67.2" y="584.5">10</text>
<text x="67.2" y="619.5">0</text>
<text x="67.2" y="667.6">-10</text>
</g>
<g font-size="12" fill="#000" stroke="#000" stroke-width="0.1">
<text x="897.8" y="581.0">ICV</text>
<text x="897.8" y="592.0">5, 3, 1</text>
</g>
<text x="898.6" y="615" font-size="12" fill="#1a1acc">1</text>
<g stroke="#000" stroke-width="1">
<rect x="77.5" y="620.5" width="9" height="7.9" fill="#f01e78"/>
<rect x="90.5" y="596.5" width="9" height="24.0" fill="#2b6cf6"/>
<rect x="103.5" y="596.5" width="9" height="24.0" fill="#2b6cf6"/>
<rect x="116.5" y="610.7" width="9" height="9.8" fill="#2b6cf6"/>
<rect x="129.5" y="601.2" width="9" height="19.3" fill="#2b6cf6"/>
<rect x="142.5" y="620.5" width="9" height="17.4" fill="#f01e78"/>
<rect x="155.5" y="620.5" width="9" height="7.9" fill="#f01e78"/>
<rect x="168.5" y="615.5" width="9" height="5.0" fill="#2b6cf6"/>
<rect x="180.5" y="587.0" width="9" height="33.5" fill="#2b6cf6"/>
<rect x="193.5" y="587.0" width="9" height="33.5" fill="#2b6cf6"/>
<rect x="206.5" y="610.7" width="9" height="9.8" fill="#2b6cf6"/>
<rect x="219.5" y="620.5" width="9" height="17.4" fill="#f01e78"/>
<rect x="232.5" y="615.5" width="9" height="5.0" fill="#2b6cf6"/>
<rect x="245.5" y="591.7" width="9" height="28.8" fill="#2b6cf6"/>
<rect x="258.5" y="606.0" width="9" height="14.5" fill="#2b6cf6"/>
<rect x="271.5" y="615.5" width="9" height="5.0" fill="#2b6cf6"/>
<rect x="283.5" y="606.0" width="9" height="14.5" fill="#2b6cf6"/>
<rect x="296.5" y="620.5" width="9" height="7.9" fill="#f01e78"/>
<rect x="309.5" y="610.7" width="9" height="9.8" fill="#2b6cf6"/>
<rect x="322.5" y="606.0" width="9" height="14.5" fill="#2b6cf6"/>
<rect x="335.5" y="620.5" width="9" height="12.6" fill="#f01e78"/>
<rect x="348.5" y="596.5" width="9" height="24.0" fill="#2b6cf6"/>
<rect x="361.5" y="620.5" width="9" height="17.4" fill="#f01e78"/>
<rect x="374.5" y="620.5" width="9" height="3.1" fill="#f01e78"/>
<rect x="386.5" y="587.0" width="9" height="33.5" fill="#2b6cf6"/>
<rect x="399.5" y="610.7" width="9" height="9.8" fill="#2b6cf6"/>
<rect x="412.5" y="591.7" width="9" height="28.8" fill="#2b6cf6"/>
<rect x="425.5" y="591.7" width="9" height="28.8" fill="#2b6cf6"/>
<rect x="438.5" y="620.5" width="9" height="26.9" fill="#f01e78"/>
<rect x="451.5" y="610.7" width="9" height="9.8" fill="#2b6cf6"/>
<rect x="464.5" y="620.5" width="9" height="31.6" fill="#f01e78"/>
<rect x="477.5" y="615.5" width="9" height="5.0" fill="#2b6cf6"/>
<rect x="489.5" y="606.0" width="9" height="14.5" fill="#2b6cf6"/>
<rect x="502.5" y="620.5" width="9" height="7.9" fill="#f01e78"/>
<rect x="515.5" y="620.5" width="9" height="22.1" fill="#f01e78"/>
<rect x="528.5" y="606.0" width="9" height="14.5" fill="#2b6cf6"/>
<rect x="541.5" y="610.7" width="9" height="9.8" fill="#2b6cf6"/>
<rect x="554.5" y="615.5" width="9" height="5.0" fill="#2b6cf6"/>
<rect x="567.5" y="620.5" width="9" height="3.1" fill="#f01e78"/>
<rect x="580.5" y="620.5" width="9" height="7.9" fill="#f01e78"/>
<rect x="592.5" y="620.5" width="9" height="26.9" fill="#f01e78"/>
<rect x="605.5" y="601.2" width="9" height="19.3" fill="#2b6cf6"/>
<rect x="618.5" y="615.5" width="9" height="5.0" fill="#2b6cf6"/>
<rect x="631.5" y="615.5" width="9" height="5.0" fill="#2b6cf6"/>
<rect x="644.5" y="587.0" width="9" height="33.5" fill="#2b6cf6"/>
<rect x="657.5" y="601.2" width="9" height="19.3" fill="#2b6cf6"/>
<rect x="670.5" y="596.5" width="9" height="24.0" fill="#2b6cf6"/>
<rect x="683.5" y="620.5" width="9" height="17.4" fill="#f01e78"/>
<rect x="695.5" y="620.5" width="9" height="3.1" fill="#f01e78"/>
<rect x="708.5" y="615.5" width="9" height="5.0" fill="#2b6cf6"/>
<rect x="721.5" y="615.5" width="9" height="5.0" fill="#2b6cf6"/>
<rect x="734.5" y="606.0" width="9" height="14.5" fill="#2b6cf6"/>
<rect x="747.5" y="620.5" width="9" height="22.1" fill="#f01e78"/>
<rect x="760.5" y="620.5" width="9" height="3.1" fill="#f01e78"/>
<rect x="773.5" y="591.7" width="9" height="28.8" fill="#2b6cf6"/>
<rect x="786.5" y="606.0" width="9" height="14.5" fill="#2b6cf6"/>
<rect x="798.5" y="582.2" width="9" height="38.3" fill="#2b6cf6"/>
<rect x="811.5" y="587.0" width="9" height="33.5" fill="#2b6cf6"/>
<rect x="824.5" y="606.0" width="9" height="14.5" fill="#2b6cf6"/>
<rect x="837.5" y="620.5" width="9" height="7.9" fill="#f01e78"/>
<rect x="850.5" y="620.5" width="9" height="3.1" fill="#f01e78"/>
<rect x="863.5" y="615.5" width="9" height="5.0" fill="#2b6cf6"/>
<rect x="876.5" y="615.5" width="9" height="5.0" fill="#2b6cf6"/>
<line x1="71" y1="620.5" x2="895" y2="620.5"/>
</g>
<polyline points="70.5,602.5 82.5,607.0 95.5,605.2 108.5,603.8 121.5,605.0 134.5,603.8 147.5,609.5 160.5,615.8 173.5,615.8 185.5,612.5 198.5,607.0 211.5,605.2 224.5,610.8 237.5,612.8 250.5,611.5 263.5,608.8 276.5,610.0 288.5,608.8 301.5,613.2 314.5,612.0 327.5,611.5 340.5,615.8 353.5,614.0 366.5,615.8 379.5,615.8 391.5,615.8 404.5,612.8 417.5,609.0 430.5,604.0 443.5,609.5 456.5,612.0 469.5,616.2 482.5,616.0 494.5,616.2 507.5,616.2 520.5,616.2 533.5,616.2 546.5,616.2 559.5,616.2 572.5,616.2 585.5,616.2" fill="none" stroke="#2a9a0a" stroke-width="1.9" stroke-linejoin="round"/>
<polyline points="585.5,616.2 597.5,626.5" fill="none" stroke="#ee0c0c" stroke-width="1.9" stroke-linejoin="round"/>
<polyline points="597.5,626.5 610.5,616.2 623.5,616.2 636.5,616.2 649.5,614.0 662.5,610.0 675.5,605.8 688.5,610.8 700.5,615.0 713.5,616.2 726.5,616.2 739.5,616.2 752.5,616.2 765.5,616.2 778.5,616.2 791.5,613.2 803.5,608.2 816.5,602.0 829.5,600.8 842.5,605.2 855.5,609.5 868.5,612.5 881.5,614.0" fill="none" stroke="#2a9a0a" stroke-width="1.9" stroke-linejoin="round"/>
<rect x="20.5" y="673.5" width="923" height="99" fill="#fff" stroke="#000" stroke-width="1"/>
<rect x="70.5" y="675.5" width="823" height="95" fill="#fff" stroke="#9a9a9a" stroke-width="1"/>
<text x="80.3" y="687.6" font-size="12" fill="#c2c2c2" textLength="88.2" lengthAdjust="spacingAndGlyphs">Full Estocastico</text>
<g stroke="#858585" stroke-width="1" stroke-dasharray="3 3" fill="none">
<line x1="95.5" y1="679.0" x2="95.5" y2="771.0"/>
<line x1="134.5" y1="679.0" x2="134.5" y2="771.0"/>
<line x1="173.5" y1="679.0" x2="173.5" y2="771.0"/>
<line x1="211.5" y1="679.0" x2="211.5" y2="771.0"/>
<line x1="250.5" y1="679.0" x2="250.5" y2="771.0"/>
<line x1="288.5" y1="679.0" x2="288.5" y2="771.0"/>
<line x1="327.5" y1="679.0" x2="327.5" y2="771.0"/>
<line x1="366.5" y1="679.0" x2="366.5" y2="771.0"/>
<line x1="404.5" y1="679.0" x2="404.5" y2="771.0"/>
<line x1="443.5" y1="679.0" x2="443.5" y2="771.0"/>
<line x1="482.5" y1="679.0" x2="482.5" y2="771.0"/>
<line x1="520.5" y1="679.0" x2="520.5" y2="771.0"/>
<line x1="559.5" y1="679.0" x2="559.5" y2="771.0"/>
<line x1="585.5" y1="679.0" x2="585.5" y2="771.0"/>
<line x1="623.5" y1="679.0" x2="623.5" y2="771.0"/>
<line x1="662.5" y1="679.0" x2="662.5" y2="771.0"/>
<line x1="700.5" y1="679.0" x2="700.5" y2="771.0"/>
<line x1="739.5" y1="679.0" x2="739.5" y2="771.0"/>
<line x1="778.5" y1="679.0" x2="778.5" y2="771.0"/>
<line x1="816.5" y1="679.0" x2="816.5" y2="771.0"/>
<line x1="829.5" y1="679.0" x2="829.5" y2="771.0"/>
<line x1="868.5" y1="679.0" x2="868.5" y2="771.0"/>
</g>
<g font-size="12" fill="#000" text-anchor="end" stroke="#000" stroke-width="0.25">
<text x="67.2" y="687.5">100</text>
<text x="67.2" y="713.2">60</text>
<text x="67.2" y="732.0">40</text>
<text x="67.2" y="770.7">0</text>
</g>
<g font-size="12" fill="#000" stroke="#000" stroke-width="0.1">
<text x="897.8" y="684.0">EST. %</text>
<text x="897.8" y="695.0">FULL</text>
<text x="897.8" y="706.0">(28,3,6)</text>
</g>
<line x1="70" y1="713.5" x2="895" y2="713.5" stroke="#e81010" stroke-width="1" stroke-dasharray="3 3"/>
<line x1="70" y1="732.5" x2="895" y2="732.5" stroke="#157a15" stroke-width="1" stroke-dasharray="3 3"/>
<polyline points="70.5,678.5 82.5,678.5 95.5,678.5 108.5,678.5 121.5,678.5 134.5,678.5 147.5,679.0 160.5,679.8 173.5,680.8 185.5,681.5 198.5,682.0 211.5,682.5 224.5,683.0 237.5,683.5 250.5,683.8 263.5,683.8 276.5,685.0 288.5,685.0 301.5,683.8 314.5,683.2 327.5,682.5 340.5,681.5 353.5,680.8 366.5,680.8 379.5,682.0 391.5,683.2 404.5,685.0 417.5,685.8 430.5,685.8 443.5,685.8 456.5,687.5 469.5,689.5 482.5,693.2 494.5,699.5 507.5,708.2 520.5,718.2 533.5,728.2 546.5,735.8 559.5,742.8 572.5,746.2 585.5,749.0 597.5,751.5 610.5,754.0 623.5,755.8 636.5,757.5 649.5,758.2 662.5,757.0 675.5,754.5 688.5,749.5 700.5,743.2 713.5,737.0 726.5,731.5 739.5,729.0 752.5,727.8 765.5,729.0 778.5,731.2 791.5,732.8 803.5,732.8 816.5,728.2 829.5,722.8 842.5,714.5 855.5,705.8 868.5,697.0 881.5,691.5" fill="none" stroke="#c6c6c6" stroke-width="2.1" stroke-dasharray="4.8 2.4"/>
<polyline points="70.5,680.0 82.5,679.0 95.5,678.2 108.5,678.2 121.5,677.5 134.5,677.0 147.5,679.0 160.5,680.8 173.5,684.5 185.5,685.8 198.5,684.5 211.5,680.8 224.5,680.8 237.5,684.0 250.5,687.8 263.5,687.8 276.5,684.5 288.5,682.0 301.5,680.0 314.5,680.0 327.5,680.0 340.5,682.0 353.5,682.0 366.5,683.8 379.5,685.8 391.5,688.2 404.5,690.0 417.5,685.8 430.5,681.5 443.5,682.5 456.5,688.2 469.5,701.2" fill="none" stroke="#2a9a0a" stroke-width="2.1" stroke-linejoin="round" stroke-linecap="round"/>
<polyline points="469.5,701.2 482.5,714.5 494.5,730.0" fill="none" stroke="#2a1680" stroke-width="2.1" stroke-linejoin="round" stroke-linecap="round"/>
<polyline points="494.5,730.0 507.5,736.2 520.5,742.5 533.5,745.8 546.5,750.2 559.5,752.5 572.5,752.5 585.5,751.5 597.5,754.5 610.5,758.2 623.5,763.2 636.5,762.0 649.5,756.5 662.5,748.2 675.5,737.0" fill="none" stroke="#ee0c0c" stroke-width="2.1" stroke-linejoin="round" stroke-linecap="round"/>
<polyline points="675.5,737.0 688.5,729.0 700.5,723.5 713.5,724.5 726.5,727.8 739.5,730.8 752.5,733.2" fill="none" stroke="#2a1680" stroke-width="2.1" stroke-linejoin="round" stroke-linecap="round"/>
<polyline points="752.5,733.2 765.5,735.0 778.5,737.0 791.5,735.0" fill="none" stroke="#ee0c0c" stroke-width="2.1" stroke-linejoin="round" stroke-linecap="round"/>
<polyline points="791.5,735.0 803.5,725.0" fill="none" stroke="#2a1680" stroke-width="2.1" stroke-linejoin="round" stroke-linecap="round"/>
<polyline points="803.5,725.0 816.5,710.8 829.5,695.0 842.5,685.8 855.5,683.8 868.5,687.0 881.5,690.0" fill="none" stroke="#2a9a0a" stroke-width="2.1" stroke-linejoin="round" stroke-linecap="round"/>
<text x="20" y="789.7" font-size="12.3" fill="#000" stroke="#000" stroke-width="0.3" textLength="217" lengthAdjust="spacingAndGlyphs" xml:space="preserve">PHILA GOLD  SILVER INDEX (^XAU)</text>
<text x="306" y="789.7" font-size="12.3" fill="#1414f4" stroke="#1414f4" stroke-width="0.35" textLength="576" lengthAdjust="spacingAndGlyphs">/Users/mserra/Library/CloudStorage/Dropbox/WorkDB/DatosBolsa/Configs/Config.DEFAULT.xml</text>
<rect x="919" y="776" width="66.4" height="18" fill="#f00a0a" stroke="#cfcfcf" stroke-width="1"/>
<text x="922.8" y="789.8" font-size="12.3" fill="#fff" stroke="#fff" stroke-width="0.3" textLength="22.6" lengthAdjust="spacingAndGlyphs">OFF</text>
<g id="toolbar">
<rect x="18.8" y="12" width="135.6" height="20" rx="5.5" fill="#000" opacity="0.06"/>
<rect x="19.2" y="11.5" width="134.8" height="19.8" rx="5.5" fill="#fff" stroke="#d4d4d4" stroke-width="0.8"/>
<text x="27.5" y="25" font-size="13" fill="#000" stroke="#000" stroke-width="0.45" textLength="77.5" lengthAdjust="spacingAndGlyphs">CandleSticks</text>
<path d="M140.6 19.2 l3.3 -3 l3.3 3 M140.6 23.4 l3.3 3 l3.3 -3" fill="none" stroke="#222" stroke-width="1.5" stroke-linecap="round" stroke-linejoin="round"/>
<rect x="195.0" y="12" width="98.2" height="20" rx="5.5" fill="#000" opacity="0.06"/>
<rect x="195.4" y="11.5" width="97.4" height="19.8" rx="5.5" fill="#fff" stroke="#d4d4d4" stroke-width="0.8"/>
<text x="203.8" y="25" font-size="13" fill="#000" stroke="#000" stroke-width="0.45" textLength="50.0" lengthAdjust="spacingAndGlyphs">3 mesos</text>
<path d="M279.4 19.2 l3.3 -3 l3.3 3 M279.4 23.4 l3.3 3 l3.3 -3" fill="none" stroke="#222" stroke-width="1.5" stroke-linecap="round" stroke-linejoin="round"/>
<rect x="303.8" y="12" width="91.2" height="20" rx="5.5" fill="#000" opacity="0.06"/>
<rect x="304.2" y="11.5" width="90.4" height="19.8" rx="5.5" fill="#fff" stroke="#d4d4d4" stroke-width="0.8"/>
<text x="312.3" y="25" font-size="13" fill="#000" stroke="#000" stroke-width="0.45" textLength="17.5" lengthAdjust="spacingAndGlyphs">dia</text>
<path d="M381.2 19.2 l3.3 -3 l3.3 3 M381.2 23.4 l3.3 3 l3.3 -3" fill="none" stroke="#222" stroke-width="1.5" stroke-linecap="round" stroke-linejoin="round"/>
<circle cx="174" cy="21" r="11.6" fill="#8c8cf0" opacity="0.75"/>
<circle cx="174" cy="21" r="10.2" fill="url(#gHelp)"/>
<text x="174" y="27.6" font-size="19" font-weight="bold" fill="#e8e8ff" text-anchor="middle">?</text>
<g><rect x="404.5" y="12" width="19" height="1" fill="#aaa"/><rect x="405" y="13.8" width="18" height="4" fill="#111"/><rect x="409" y="15" width="10" height="1.6" fill="#2a9a0a"/><rect x="405.5" y="19" width="17" height="9" fill="#fff" stroke="#111" stroke-width="1"/><path d="M408.5 25.5 l2.5 -1.8 l1.5 1 l3.5 -3.2 l1.5 1.2" fill="none" stroke="#1414e0" stroke-width="1"/><rect x="404.5" y="29.6" width="19" height="1" fill="#999"/></g>
<rect x="435.6" y="15.5" width="13" height="13" rx="3.2" fill="#fff" stroke="#bdbdbd" stroke-width="1"/>
<path d="M438.4 22.2 l2.9 3.4 l4.9 -7.2" fill="none" stroke="#111" stroke-width="1.9" stroke-linecap="round" stroke-linejoin="round"/>
<text x="455.5" y="26.6" font-size="13" fill="#000" stroke="#000" stroke-width="0.4" textLength="33.3" lengthAdjust="spacingAndGlyphs">Guies</text>
<rect x="505.4" y="15.5" width="13" height="13" rx="3.2" fill="#fff" stroke="#c4c4c4" stroke-width="1"/>
<text x="525.6" y="26.6" font-size="13" fill="#000" stroke="#000" stroke-width="0.4" textLength="39.6" lengthAdjust="spacingAndGlyphs">Cursor</text>
<g transform="translate(580,0) scale(0.08)"><path d="M88 140 C88 80 338 80 338 140 L300 370 C290 440 140 440 130 370 Z" fill="url(#gTrash)"/><path d="M130 300 C150 250 220 240 250 260 C230 300 200 360 165 405 C140 390 132 360 130 300 Z" fill="#9a9a9a" opacity="0.35"/><ellipse cx="213" cy="140" rx="122" ry="42" fill="#858585" stroke="#6c6c6c" stroke-width="9"/><path d="M100 150 C140 190 290 190 326 150" fill="none" stroke="#9c9c9c" stroke-width="8" opacity="0.8"/></g>
<g transform="translate(580,0) scale(0.08)"><rect x="542" y="92" width="242" height="326" rx="14" fill="url(#gDoc)" stroke="#7aa6f0" stroke-width="9"/><path d="M570 125 C585 92 618 98 630 130 C645 190 685 250 725 290 C755 315 790 332 822 345 C805 392 752 402 712 372 C690 355 672 335 655 312 C630 350 600 385 560 405 C530 412 505 395 500 368 C540 360 575 335 600 300 C612 283 622 268 630 255 C600 215 580 170 570 125 Z" fill="url(#gX)" stroke="#8a0404" stroke-width="20" stroke-linejoin="round"/><path d="M812 168 C795 132 760 138 730 160 C700 182 672 212 650 245 C662 268 676 288 690 300 C720 250 760 205 812 168 Z" fill="url(#gX)" stroke="#8a0404" stroke-width="20" stroke-linejoin="round"/><path d="M596 130 C612 190 650 260 700 305 M790 165 C750 175 705 215 670 262" fill="none" stroke="#e63030" stroke-width="16" stroke-linecap="round" opacity="0.75"/></g>
<g transform="translate(650,0) scale(0.08)"><rect x="95" y="172" width="58" height="40" rx="12" fill="#3c3c3c"/><rect x="76" y="188" width="286" height="222" rx="22" fill="url(#gCam)" stroke="#5a5a5a" stroke-width="9"/><rect x="80" y="232" width="92" height="150" fill="#6c6c6c"/><circle cx="265" cy="335" r="62" fill="#a4a4a4" stroke="#4c4c4c" stroke-width="12"/><circle cx="265" cy="335" r="36" fill="#56682e"/><circle cx="285" cy="208" r="124" fill="url(#gFlash)"/><circle cx="285" cy="208" r="112" fill="none" stroke="#eeeeb4" stroke-width="12" opacity="0.75"/><rect x="240" y="206" width="76" height="40" rx="14" fill="#fff" stroke="#8c8c8c" stroke-width="8"/></g>
<g transform="translate(650,0) scale(0.08)"><rect x="556" y="140" width="254" height="258" fill="#3d3db6" stroke="#28288e" stroke-width="7"/><rect x="596" y="148" width="176" height="122" fill="url(#gLabel)"/><rect x="596" y="262" width="176" height="12" fill="#28288e" opacity="0.6"/><rect x="600" y="316" width="166" height="78" fill="url(#gShut)"/><rect x="616" y="326" width="36" height="68" fill="#3d3db6"/><rect x="776" y="150" width="24" height="26" fill="#fff"/></g>
<g fill="#fdf1d8" stroke="#c48e58" stroke-width="0.9" stroke-linejoin="round"><path d="M728.4 27.8 V14.6 Q728.4 13.2 729.8 13.2 H736.4 Q737.6 13.2 738.2 14.4 L738.8 16 H744.6 Q745.8 16 745.8 17.2 V20.6"/><path d="M729 28.6 L734.6 20.8 H749.6 L744 28.6 Z"/></g>
<g transform="translate(755,0) scale(0.08)" fill="url(#gGreen)" stroke="#3f9f20" stroke-width="7" stroke-linejoin="round"><path d="M108 215 C120 140 190 108 250 112 C300 114 335 130 358 158 L376 138 L390 236 L298 226 L322 200 C300 175 270 168 245 168 C205 168 172 195 162 232 Z"/><path d="M388 289 C376 364 306 396 246 392 C196 390 161 374 138 346 L120 366 L106 268 L198 278 L174 304 C196 329 226 336 251 336 C291 336 324 309 334 272 Z"/></g>
<g transform="translate(755,0) scale(0.08)"><ellipse cx="675" cy="392" rx="162" ry="17" fill="#0c0c0c" opacity="0.9"/><circle cx="705" cy="255" r="135" fill="url(#gBallG)"/><path d="M690 112 C620 118 580 190 598 242 C615 290 700 278 738 292 C705 330 655 322 640 300 C636 350 660 392 722 402 C792 382 822 320 802 265 C782 215 702 228 676 206 C700 172 742 182 762 198 C768 160 742 118 690 112 Z" fill="url(#gBall)"/><path d="M580 215 C565 290 600 350 650 385" fill="none" stroke="#1e4a10" stroke-width="14" opacity="0.9"/></g>
<g transform="translate(825,0) scale(0.08)"><path d="M280 150 C200 100 110 160 100 250 C95 340 200 430 300 400 C350 385 380 350 398 322 L360 290 C330 320 290 335 250 320 C200 300 175 250 190 205 C205 165 250 160 285 185 Z" fill="#2e2e2e" transform="translate(4,22)"/><path d="M276 118 C196 92 112 150 102 240 C96 320 190 390 290 368 C340 355 375 325 396 300 L356 268 C326 298 286 312 246 298 C196 280 172 230 186 186 C202 148 246 142 282 166 Z" fill="url(#gSilver)" stroke="#8a8a8a" stroke-width="6"/><path d="M176 204 L292 188 L296 216 L178 232 Z M180 246 L298 232 L300 260 L184 274 Z" fill="#f6f6f6" stroke="#3a3a3a" stroke-width="7"/><path d="M92 232 L130 226 M96 272 L134 266" stroke="#5a5a5a" stroke-width="18"/></g>
<g><path d="M881.6 30.3 L881.3 33.4 L876.7 33.4 L876.4 30.3 L873.5 29.1 L871.2 31.1 L867.9 27.8 L869.9 25.5 L868.7 22.6 L865.6 22.3 L865.6 17.7 L868.7 17.4 L869.9 14.5 L867.9 12.2 L871.2 8.9 L873.5 10.9 L876.4 9.7 L876.7 6.6 L881.3 6.6 L881.6 9.7 L884.5 10.9 L886.8 8.9 L890.1 12.2 L888.1 14.5 L889.3 17.4 L892.4 17.7 L892.4 22.3 L889.3 22.6 L888.1 25.5 L890.1 27.8 L886.8 31.1 L884.5 29.1 Z" fill="url(#gGear)" stroke="#636363" stroke-width="1.3" stroke-linejoin="round"/><circle cx="879" cy="20" r="6.6" fill="#b4b4b4" stroke="#8a8a8a" stroke-width="0.8"/><circle cx="879" cy="20" r="2.9" fill="#fff" stroke="#6a6a6a" stroke-width="1.1"/></g>
<g transform="rotate(-8 914 21)"><rect x="903.6" y="10.4" width="20.6" height="21" rx="1.2" fill="url(#gCal)" stroke="#9a9a9a" stroke-width="0.7"/><path d="M903.6 11.6 Q903.6 10.4 904.8 10.4 H923 Q924.2 10.4 924.2 11.6 V14.2 H903.6 Z" fill="#6cc018"/><rect x="903.6" y="29.6" width="20.6" height="1.8" fill="#6a6a6a"/><text x="914" y="27.2" font-size="12.4" fill="#222" text-anchor="middle" stroke="#222" stroke-width="0.3">17</text></g>
</g>
<g id="side">
<circle cx="968.9" cy="22.0" r="6.6" fill="#fff" stroke="#c6c6c6" stroke-width="1"/>
<rect x="953.7" y="36.7" width="31.6" height="20.4" fill="url(#gBtn)" stroke="#a2a2a2" stroke-width="1"/>
<rect x="961" y="38.7" width="16" height="17" fill="#f2f2f2" opacity="0.7"/>
<line x1="969.8" y1="48.6" x2="975.4" y2="53.4" stroke="#222" stroke-width="1.6" stroke-linecap="round"/>
<circle cx="966.4" cy="44.8" r="3.9" fill="url(#gMag)" stroke="#2a2a2a" stroke-width="1.2"/>
<rect x="953.7" y="61.5" width="30.6" height="20.6" fill="#fbf6f8" stroke="#a2a2a2" stroke-width="1"/>
<path d="M955 82.0 V64.0 L956.4 66.0 L958 72.0 L959.4 68.0 L961.6 69.5 L963 78.5 L965 78.0 L967 65.5 L968.4 66.0 L970 76.0 L971 80.0 L972.6 78.0 L973.4 81.0 L976.6 81.0 L977.6 78.0 L980 72.0 L981.6 75.0 L983 77.0 V82.0 Z" fill="#4a52a8"/>
<path d="M956.6 62.0 V82.0 M971.4 62.0 V82.0" stroke="#c8cce8" stroke-width="1.2" fill="none"/>
<path d="M955 67.0 L957 69.2 L960 69.6 L966 69.2 L967.4 67.6 L968.6 69.4 L970 68.4 L972.6 70.0 L974.4 68.6 L976.4 72.0 L978 68.6 L980 68.4 L982.6 69.4" fill="none" stroke="#e01414" stroke-width="1"/>
<rect x="953.7" y="85.8" width="31.6" height="20.4" fill="url(#gBtn)" stroke="#a2a2a2" stroke-width="1"/>
<line x1="957.2" y1="95.6" x2="981" y2="95.6" stroke="#e83232" stroke-width="2.1"/>
<rect x="953.7" y="110.7" width="31.6" height="20.4" fill="url(#gBtn)" stroke="#a2a2a2" stroke-width="1"/>
<line x1="957.2" y1="120.5" x2="981" y2="120.5" stroke="#2a2aff" stroke-width="2.1"/>
<rect x="953.7" y="135.5" width="31.6" height="20.4" fill="url(#gBtn)" stroke="#a2a2a2" stroke-width="1"/>
<path d="M957.5 151.5 L972.5 135.0 M965 156.8 L980.5 140.5" stroke="#222" stroke-width="0.9" fill="none"/>
<path d="M965.2 155.5 L963.2 147.0 L970 150.5 L972 142.0 L975.2 145.0 L973.8 136.2 L980 140.2" stroke="#3a3ae6" stroke-width="0.9" fill="none"/>
<rect x="953.7" y="160.5" width="31.6" height="20.4" fill="url(#gBtn)" stroke="#a2a2a2" stroke-width="1"/>
<line x1="958.5" y1="181.4" x2="980" y2="160.0" stroke="#111" stroke-width="1.15"/>
<path d="M961.2 173.5 l5.3 0.3 l-0.3 5.2 M973 161.0 l-0.8 6.5 l6.3 -1" fill="none" stroke="#2a2ae0" stroke-width="1.3"/>
<rect x="953.7" y="185.7" width="31.6" height="20.4" fill="url(#gBtn)" stroke="#a2a2a2" stroke-width="1"/>
<line x1="958.5" y1="206.6" x2="980" y2="185.2" stroke="#111" stroke-width="1.15"/>
<path d="M961.2 198.7 l5.3 0.3 l-0.3 5.2 M973 186.2 l-0.8 6.5 l6.3 -1" fill="none" stroke="#2a2ae0" stroke-width="1.3"/>
<text x="958.3" y="196.8" font-size="11.5" font-weight="bold" fill="#e8142a" textLength="7.6" lengthAdjust="spacingAndGlyphs">&#931;</text>
<rect x="953.7" y="210.7" width="31.6" height="20.4" fill="url(#gBtn)" stroke="#a2a2a2" stroke-width="1"/>
<path d="M967.4 215.0 h3.8 v2.8 h3.4 l-5.2 8.2 l-5.2 -8.2 h3.2 z" fill="#f01a08"/>
<rect x="953.7" y="235.7" width="31.6" height="20.4" fill="url(#gBtn)" stroke="#a2a2a2" stroke-width="1"/>
<path d="M969.5 239.8 l5.2 8.6 h-3.4 v2.4 h-3.8 v-2.4 h-3.2 z" fill="#0a0aff"/>
<rect x="953.7" y="260.7" width="31.6" height="20.4" fill="url(#gBtn)" stroke="#a2a2a2" stroke-width="1"/>
<path d="M960.2 266.2 h2.6 v3.4 h3.4 v2.6 h-3.4 v3.6 h-2.6 v-3.6 h-3.2 v-2.6 h3.2 z" fill="#9ad060" stroke="#62a828" stroke-width="0.7"/>
<path d="M970.6 266.0 h4.4 v3.4 h3.6 l-5.8 6.6 l-5.8 -6.6 h3.6 z" fill="#e6241a"/>
<circle cx="981" cy="275.0" r="2.4" fill="#fff" stroke="#e6241a" stroke-width="0.9"/>
<rect x="953.2" y="285.2" width="32.6" height="21.4" fill="#e9e9e9"/>
<path d="M955.2 285.7 h-1.6 v20.4 h1.6 M983.8 285.7 h1.6 v20.4 h-1.6" fill="none" stroke="#a2a2a2" stroke-width="1"/>
<line x1="957.2" y1="292.2" x2="964.0" y2="292.2" stroke="#3c3c3c" stroke-width="1.9"/>
<line x1="966.2" y1="292.2" x2="973.0" y2="292.2" stroke="#3c3c3c" stroke-width="1.9"/>
<line x1="975.2" y1="292.2" x2="981.0" y2="292.2" stroke="#3c3c3c" stroke-width="1.9"/>
<line x1="957.2" y1="297.2" x2="964.0" y2="297.2" stroke="#3c3c3c" stroke-width="1.9"/>
<line x1="966.2" y1="297.2" x2="973.0" y2="297.2" stroke="#3c3c3c" stroke-width="1.9"/>
<line x1="975.2" y1="297.2" x2="981.0" y2="297.2" stroke="#3c3c3c" stroke-width="1.9"/>
<line x1="957.2" y1="302.2" x2="964.0" y2="302.2" stroke="#3c3c3c" stroke-width="1.9"/>
<line x1="966.2" y1="302.2" x2="973.0" y2="302.2" stroke="#3c3c3c" stroke-width="1.9"/>
<line x1="975.2" y1="302.2" x2="981.0" y2="302.2" stroke="#3c3c3c" stroke-width="1.9"/>
<rect x="953.2" y="311.2" width="32.6" height="21.4" fill="#e9e9e9"/>
<path d="M955.2 311.7 h-1.6 v20.4 h1.6 M983.8 311.7 h1.6 v20.4 h-1.6" fill="none" stroke="#a2a2a2" stroke-width="1"/>
<path d="M956 313.4 H972 M956 330.4 H972 M963.7 313.4 V330.4" stroke="#1a1aff" stroke-width="1.2" fill="none"/>
<path d="M963.7 313.8 l3.4 4.2 h-6.8 z M963.7 330.0 l3.4 -4.2 h-6.8 z" fill="#1a1aff"/>
<text x="972.4" y="329.8" font-size="18.5" fill="#111" textLength="10" lengthAdjust="spacingAndGlyphs">%</text>
<rect x="953.7" y="335.7" width="31.6" height="20.4" fill="url(#gBtn)" stroke="#a2a2a2" stroke-width="1"/>
<line x1="958.5" y1="340.4" x2="971" y2="340.4" stroke="#2a50ff" stroke-width="1.1"/>
<line x1="958.5" y1="346.2" x2="971" y2="346.2" stroke="#111" stroke-width="1.3"/>
<line x1="958.5" y1="351.8" x2="971" y2="351.8" stroke="#e8402c" stroke-width="1.9"/>
<text x="971.9" y="353.6" font-size="18.5" fill="#111" textLength="10.6" lengthAdjust="spacingAndGlyphs">%</text>
<rect x="953.7" y="361.7" width="31.6" height="20.4" fill="url(#gBtn)" stroke="#a2a2a2" stroke-width="1"/>
<rect x="960" y="362.6" width="19" height="19" fill="#dcdce8"/>
<circle cx="969.5" cy="372.0" r="7.3" fill="#d4d4de" stroke="#b62626" stroke-width="2.4"/>
<line x1="964.4" y1="367.0" x2="974.6" y2="377.0" stroke="#b62626" stroke-width="2.2"/>
<rect x="953.7" y="385.7" width="31.6" height="20.4" fill="url(#gBtn)" stroke="#a2a2a2" stroke-width="1"/>
<circle cx="969" cy="396.0" r="6" fill="url(#gRed)"/>
<rect x="953.7" y="409.0" width="31.6" height="20.4" fill="url(#gBtn)" stroke="#a2a2a2" stroke-width="1"/>
<path d="M963.4 417.1 C965 413.9 969 412.7 971.4 413.3 L970.6 411.1 L974.6 414.3 L971.6 417.7 L971.2 415.9 C968.6 415.3 965.6 415.7 963.4 417.1 Z" fill="#2a64d6"/>
<path d="M974.2 420.5 C972.6 423.7 968.6 424.9 966.2 424.3 L967 426.5 L963 423.3 L966 419.9 L966.4 421.7 C969 422.3 972 421.9 974.2 420.5 Z" fill="#2a64d6"/>
<circle cx="968.9" cy="472.7" r="6.6" fill="#fff" stroke="#c6c6c6" stroke-width="1"/>
<rect x="953.7" y="487.7" width="31.6" height="20.4" fill="#fff" stroke="#a2a2a2" stroke-width="1"/>
<path d="M961.2 492.4 h4 v5.2 h3.6 l-5.6 5.6 l-5.6 -5.6 h3.6 z" fill="#e0241a"/>
<path d="M976.6 492.6 l5.6 6.4 h-3.6 v4 h-4 v-4 h-3.6 z" fill="#78b82e"/>
<rect x="953.7" y="513.7" width="31.6" height="20.4" fill="url(#gBtn)" stroke="#a2a2a2" stroke-width="1"/>
<line x1="958.5" y1="518.4" x2="971" y2="518.4" stroke="#2a50ff" stroke-width="1.1"/>
<line x1="958.5" y1="524.2" x2="971" y2="524.2" stroke="#111" stroke-width="1.3"/>
<line x1="958.5" y1="529.8" x2="971" y2="529.8" stroke="#e8402c" stroke-width="1.9"/>
<text x="971.9" y="531.6" font-size="18.5" fill="#111" textLength="10.6" lengthAdjust="spacingAndGlyphs">%</text>
<rect x="953.7" y="541.7" width="31.6" height="20.4" fill="url(#gBtn)" stroke="#a2a2a2" stroke-width="1"/>
<line x1="958" y1="555.6" x2="983.5" y2="555.6" stroke="#2a8a1a" stroke-width="0.9" stroke-dasharray="3 2"/>
<line x1="977.5" y1="552.2" x2="977.5" y2="560.2" stroke="#7a7a9a" stroke-width="0.6" stroke-dasharray="3 2.6"/>
<polyline points="955.5,545.0 967.5,560.0 977.5,541.6" fill="none" stroke="#1414ff" stroke-width="2.4" stroke-linejoin="round"/>
<polyline points="955.5,545.0 970,556.6 974.5,555.5 981,541.6" fill="none" stroke="#e01a1a" stroke-width="2.4" stroke-linejoin="round"/>
<circle cx="968.0" cy="579.8" r="6.6" fill="#fff" stroke="#c6c6c6" stroke-width="1"/>
<circle cx="968.0" cy="579.8" r="3" fill="#111"/>
<rect x="953.7" y="595.7" width="31.6" height="20.4" fill="#fff" stroke="#a2a2a2" stroke-width="1"/>
<path d="M961.2 600.4 h4 v5.2 h3.6 l-5.6 5.6 l-5.6 -5.6 h3.6 z" fill="#e0241a"/>
<path d="M976.6 600.6 l5.6 6.4 h-3.6 v4 h-4 v-4 h-3.6 z" fill="#78b82e"/>
<rect x="953.7" y="619.7" width="31.6" height="20.4" fill="url(#gBtn)" stroke="#a2a2a2" stroke-width="1"/>
<line x1="958.5" y1="624.4" x2="971" y2="624.4" stroke="#2a50ff" stroke-width="1.1"/>
<line x1="958.5" y1="630.2" x2="971" y2="630.2" stroke="#111" stroke-width="1.3"/>
<line x1="958.5" y1="635.8" x2="971" y2="635.8" stroke="#e8402c" stroke-width="1.9"/>
<text x="971.9" y="637.6" font-size="18.5" fill="#111" textLength="10.6" lengthAdjust="spacingAndGlyphs">%</text>
<rect x="953.7" y="643.7" width="31.6" height="20.4" fill="url(#gBtn)" stroke="#a2a2a2" stroke-width="1"/>
<line x1="958" y1="657.6" x2="983.5" y2="657.6" stroke="#2a8a1a" stroke-width="0.9" stroke-dasharray="3 2"/>
<line x1="977.5" y1="654.2" x2="977.5" y2="662.2" stroke="#7a7a9a" stroke-width="0.6" stroke-dasharray="3 2.6"/>
<polyline points="955.5,647.0 967.5,662.0 977.5,643.6" fill="none" stroke="#1414ff" stroke-width="2.4" stroke-linejoin="round"/>
<polyline points="955.5,647.0 970,658.6 974.5,657.5 981,643.6" fill="none" stroke="#e01a1a" stroke-width="2.4" stroke-linejoin="round"/>
<circle cx="968.9" cy="682.7" r="6.6" fill="#fff" stroke="#c6c6c6" stroke-width="1"/>
<rect x="953.7" y="698.0" width="31.6" height="20.4" fill="#fff" stroke="#a2a2a2" stroke-width="1"/>
<path d="M961.2 702.7 h4 v5.2 h3.6 l-5.6 5.6 l-5.6 -5.6 h3.6 z" fill="#e0241a"/>
<path d="M976.6 702.9 l5.6 6.4 h-3.6 v4 h-4 v-4 h-3.6 z" fill="#78b82e"/>
<rect x="953.7" y="722.8" width="31.6" height="20.4" fill="url(#gBtn)" stroke="#a2a2a2" stroke-width="1"/>
<line x1="958.5" y1="727.5" x2="971" y2="727.5" stroke="#2a50ff" stroke-width="1.1"/>
<line x1="958.5" y1="733.3" x2="971" y2="733.3" stroke="#111" stroke-width="1.3"/>
<line x1="958.5" y1="738.9" x2="971" y2="738.9" stroke="#e8402c" stroke-width="1.9"/>
<text x="971.9" y="740.7" font-size="18.5" fill="#111" textLength="10.6" lengthAdjust="spacingAndGlyphs">%</text>
<rect x="953.7" y="747.8" width="31.6" height="20.4" fill="url(#gBtn)" stroke="#a2a2a2" stroke-width="1"/>
<line x1="958" y1="761.7" x2="983.5" y2="761.7" stroke="#2a8a1a" stroke-width="0.9" stroke-dasharray="3 2"/>
<line x1="977.5" y1="758.3" x2="977.5" y2="766.3" stroke="#7a7a9a" stroke-width="0.6" stroke-dasharray="3 2.6"/>
<polyline points="955.5,751.1 967.5,766.1 977.5,747.7" fill="none" stroke="#1414ff" stroke-width="2.4" stroke-linejoin="round"/>
<polyline points="955.5,751.1 970,762.7 974.5,761.6 981,747.7" fill="none" stroke="#e01a1a" stroke-width="2.4" stroke-linejoin="round"/>
</g>
</svg>
</body></html>
